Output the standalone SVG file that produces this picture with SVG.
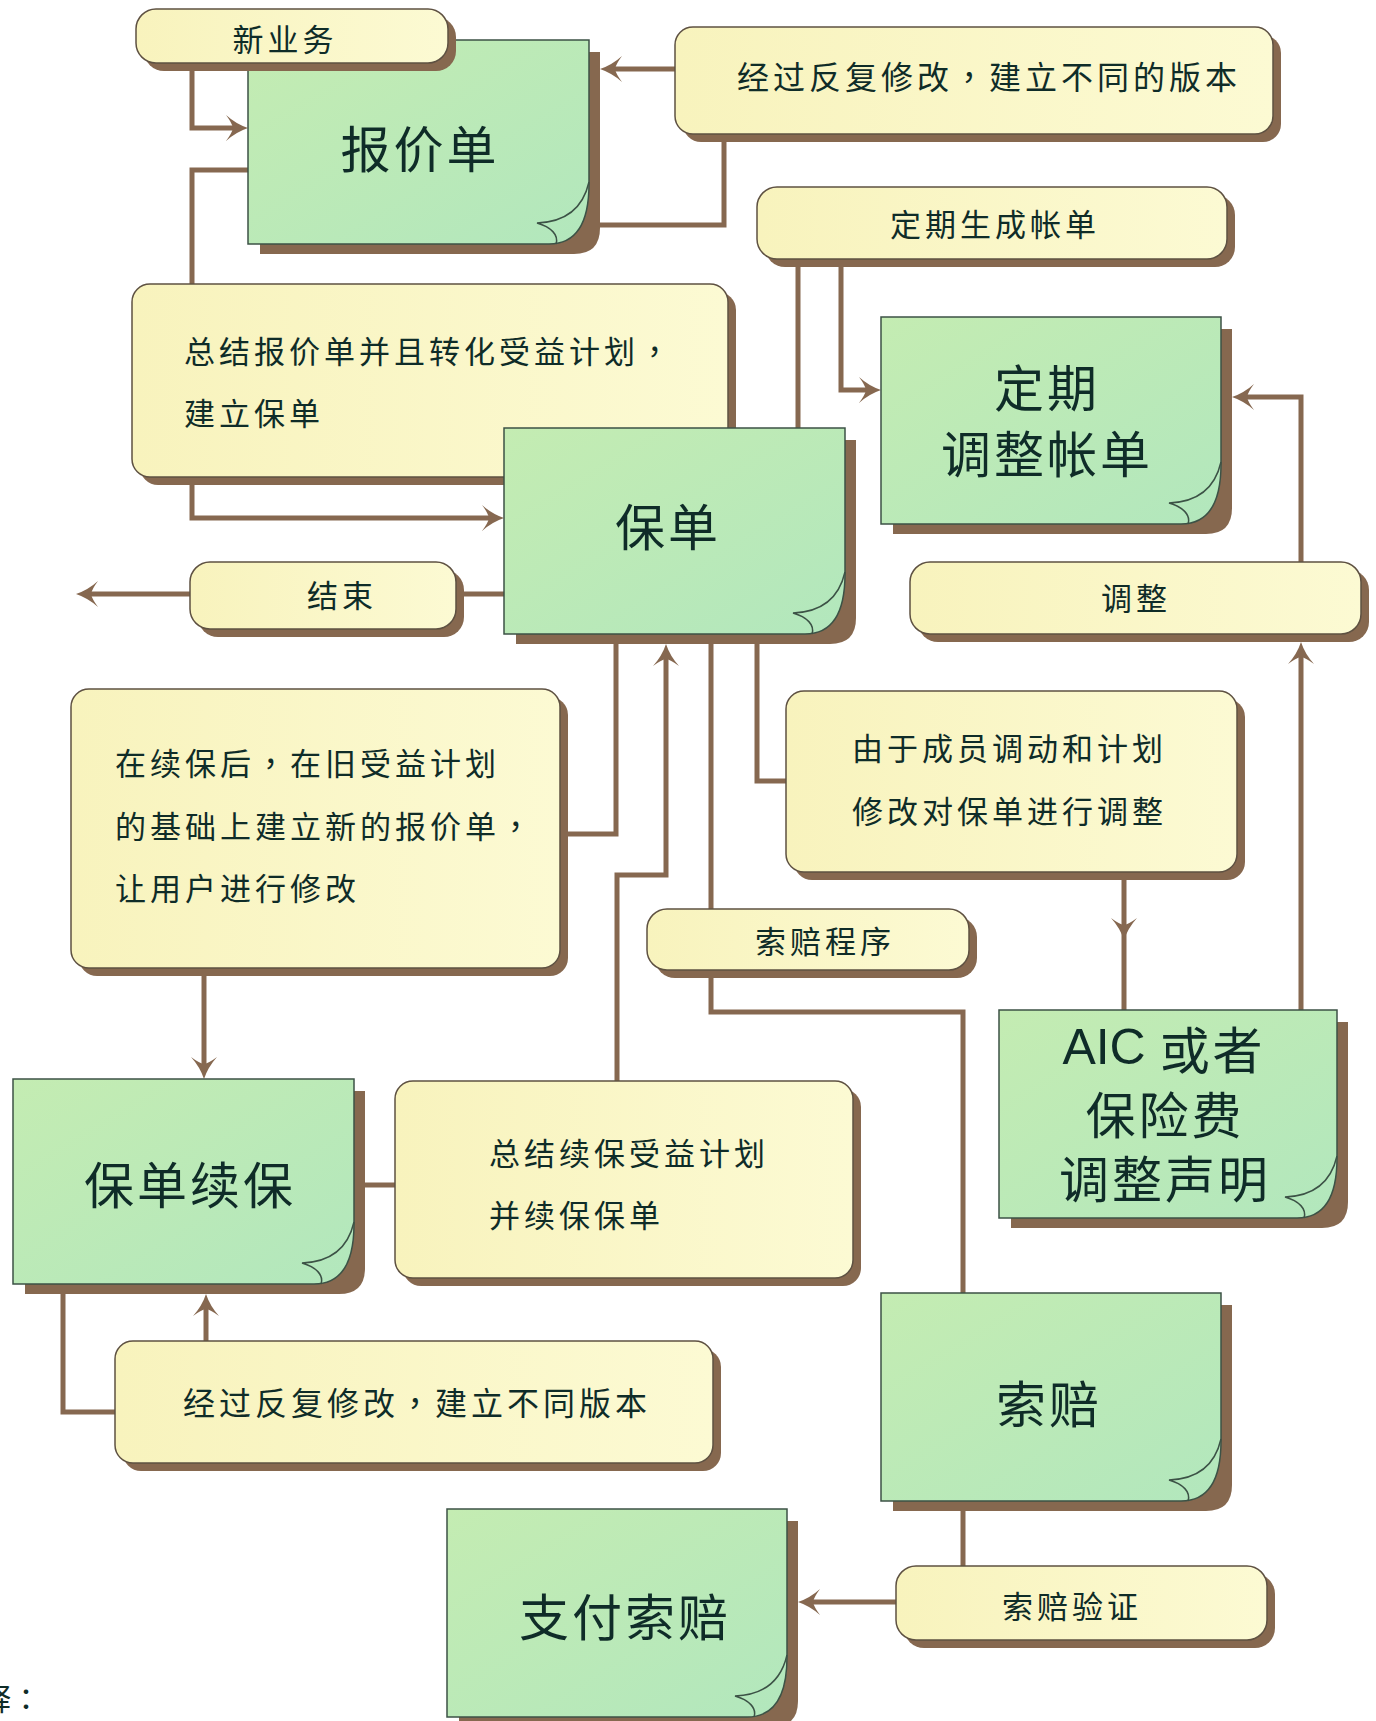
<svg xmlns="http://www.w3.org/2000/svg" width="1376" height="1721" viewBox="0 0 1376 1721">
<defs>
<style>
.c{fill:none;stroke:#866850;stroke-width:5}
.a{marker-end:url(#ar)}
.sh{fill:#86684f}
.g{fill:url(#gg);stroke:#3c5246;stroke-width:1.5}
.y{fill:url(#yg);stroke:#5e5142;stroke-width:1.5}
.cu{fill:none;stroke:#3c5246;stroke-width:1.5}
.t{font-family:"Noto Sans CJK SC","Noto Sans CJK TC",sans-serif;fill:#0f2c28;dominant-baseline:central}
.s{font-size:31px;letter-spacing:4px}
.m{font-size:32px;letter-spacing:4px}
.l{font-size:50px;letter-spacing:3px}
.p{font-family:"Noto Sans CJK TC",sans-serif}
.mid{text-anchor:middle}
</style>
<linearGradient id="gg" x1="0" y1="0" x2="1" y2="1">
<stop offset="0" stop-color="#c4ecb2"/>
<stop offset="1" stop-color="#b2e7bd"/>
</linearGradient>
<linearGradient id="yg" x1="0" y1="0" x2="1" y2="0">
<stop offset="0" stop-color="#f8f3bd"/>
<stop offset="1" stop-color="#fcfad3"/>
</linearGradient>
<marker id="ar" markerUnits="userSpaceOnUse" viewBox="-14 -15 26 30" markerWidth="26" markerHeight="30" refX="0" refY="0" orient="auto">
<path d="M10,0 Q-2,-4 -12,-13 Q-6,-5 -5,0 Q-6,5 -12,13 Q-2,4 10,0 Z" fill="#866850"/>
</marker>
</defs>
<rect width="1376" height="1721" fill="#ffffff"/>

<g id="connectors">
<path class="c a" d="M192,63 V128 H238"/>
<path class="c" d="M250,170 H192 V284"/>
<path class="c a" d="M192,477 V518 H494"/>
<path class="c a" d="M677,69 H610"/>
<path class="c" d="M600,225 H724 V134"/>
<path class="c" d="M798,259 V428"/>
<path class="c a" d="M841,259 V390 H871"/>
<path class="c a" d="M1301,562 V397 H1242"/>
<path class="c" d="M504,594 H456"/>
<path class="c a" d="M190,594 H86"/>
<path class="c" d="M616,634 V834 H560"/>
<path class="c a" d="M617,1081 V875 H666 V654"/>
<path class="c" d="M711,634 V909"/>
<path class="c" d="M711,970 V1012 H963 V1293"/>
<path class="c" d="M757,634 V781 H786"/>
<path class="c" d="M1124,872 V930 V1010" style="marker-mid:url(#ar)"/>
<path class="c a" d="M1301,1010 V652"/>
<path class="c a" d="M204,968 V1069"/>
<path class="c" d="M354,1185 H395"/>
<path class="c" d="M63,1284 V1412 H115"/>
<path class="c a" d="M206,1341 V1304"/>
<path class="c" d="M963,1501 V1566"/>
<path class="c a" d="M896,1602 H808"/>
</g>

<g id="n-baojiadan">
<path class="sh" d="M260,52 H600 V228 Q600,254 574,254 H260 Z"/>
<path class="g" d="M248,40 H589 V184 C589,222 577,244 549,244 H248 Z"/>
<path class="cu" d="M589,182 C583,208 565,222 537,223 C551,227 559,235 556,244"/>
<text class="t l mid" x="420" y="146">报价单</text>
</g>

<g id="n-xinyewu">
<rect class="sh" x="144" y="17" width="312" height="54" rx="20"/>
<rect class="y" x="136" y="9" width="312" height="54" rx="20"/>
<text class="t s mid" x="285" y="37">新业务</text>
</g>

<g id="n-banben1">
<rect class="sh" x="683" y="35" width="598" height="107" rx="18"/>
<rect class="y" x="675" y="27" width="598" height="107" rx="18"/>
<text class="t m" x="737" y="75">经过反复修改<tspan class="p">，</tspan>建立不同的版本</text>
</g>

<g id="n-dingqishengcheng">
<rect class="sh" x="765" y="195" width="470" height="72" rx="20"/>
<rect class="y" x="757" y="187" width="470" height="72" rx="20"/>
<text class="t s mid" x="995" y="222">定期生成帐单</text>
</g>

<g id="n-zongjie">
<rect class="sh" x="140" y="292" width="596" height="193" rx="18"/>
<rect class="y" x="132" y="284" width="596" height="193" rx="18"/>
<text class="t s" x="184" y="349">总结报价单并且转化受益计划<tspan class="p">，</tspan></text>
<text class="t s" x="184" y="411">建立保单</text>
</g>

<g id="n-baodan">
<path class="sh" d="M516,440 H856 V618 Q856,644 830,644 H516 Z"/>
<path class="g" d="M504,428 H845 V574 C845,612 833,634 805,634 H504 Z"/>
<path class="cu" d="M845,572 C839,598 821,612 793,613 C807,617 815,625 812,634"/>
<text class="t l mid" x="668" y="524">保单</text>
</g>

<g id="n-dingqitiaozheng">
<path class="sh" d="M893,329 H1232 V508 Q1232,534 1206,534 H893 Z"/>
<path class="g" d="M881,317 H1221 V464 C1221,502 1209,524 1181,524 H881 Z"/>
<path class="cu" d="M1221,462 C1215,488 1197,502 1169,503 C1183,507 1191,515 1188,524"/>
<text class="t l mid" x="1047" y="385">定期</text>
<text class="t l mid" x="1047" y="451">调整帐单</text>
</g>

<g id="n-tiaozheng">
<rect class="sh" x="918" y="570" width="451" height="72" rx="20"/>
<rect class="y" x="910" y="562" width="451" height="72" rx="20"/>
<text class="t s mid" x="1136" y="596">调整</text>
</g>

<g id="n-jieshu">
<rect class="sh" x="198" y="570" width="266" height="67" rx="20"/>
<rect class="y" x="190" y="562" width="266" height="67" rx="20"/>
<text class="t s mid" x="342" y="593">结束</text>
</g>

<g id="n-xubaohou">
<rect class="sh" x="79" y="697" width="489" height="279" rx="18"/>
<rect class="y" x="71" y="689" width="489" height="279" rx="18"/>
<text class="t s" x="115" y="761">在续保后<tspan class="p">，</tspan>在旧受益计划</text>
<text class="t s" x="115" y="824">的基础上建立新的报价单<tspan class="p">，</tspan></text>
<text class="t s" x="115" y="886">让用户进行修改</text>
</g>

<g id="n-chengyuan">
<rect class="sh" x="794" y="699" width="451" height="181" rx="18"/>
<rect class="y" x="786" y="691" width="451" height="181" rx="18"/>
<text class="t s" x="852" y="746">由于成员调动和计划</text>
<text class="t s" x="852" y="809">修改对保单进行调整</text>
</g>

<g id="n-suopeichengxu">
<rect class="sh" x="655" y="917" width="322" height="61" rx="20"/>
<rect class="y" x="647" y="909" width="322" height="61" rx="20"/>
<text class="t s mid" x="825" y="939">索赔程序</text>
</g>

<g id="n-aic">
<path class="sh" d="M1011,1022 H1348 V1202 Q1348,1228 1322,1228 H1011 Z"/>
<path class="g" d="M999,1010 H1337 V1158 C1337,1196 1325,1218 1297,1218 H999 Z"/>
<path class="cu" d="M1337,1156 C1331,1182 1313,1196 1285,1197 C1299,1201 1307,1209 1304,1218"/>
<text class="t l mid" x="1164" y="1047"><tspan font-family="Liberation Sans, sans-serif" letter-spacing="0">AIC </tspan>或者</text>
<text class="t l mid" x="1165" y="1112">保险费</text>
<text class="t l mid" x="1165" y="1176">调整声明</text>
</g>

<g id="n-baodanxubao">
<path class="sh" d="M25,1091 H365 V1268 Q365,1294 339,1294 H25 Z"/>
<path class="g" d="M13,1079 H354 V1224 C354,1262 342,1284 314,1284 H13 Z"/>
<path class="cu" d="M354,1222 C348,1248 330,1262 302,1263 C316,1267 324,1275 321,1284"/>
<text class="t l mid" x="190" y="1182">保单续保</text>
</g>

<g id="n-zongjiexubao">
<rect class="sh" x="403" y="1089" width="458" height="197" rx="18"/>
<rect class="y" x="395" y="1081" width="458" height="197" rx="18"/>
<text class="t s" x="489" y="1151">总结续保受益计划</text>
<text class="t s" x="489" y="1213">并续保保单</text>
</g>

<g id="n-banben2">
<rect class="sh" x="123" y="1349" width="598" height="122" rx="18"/>
<rect class="y" x="115" y="1341" width="598" height="122" rx="18"/>
<text class="t m" x="183" y="1401">经过反复修改<tspan class="p">，</tspan>建立不同版本</text>
</g>

<g id="n-suopei">
<path class="sh" d="M893,1305 H1232 V1485 Q1232,1511 1206,1511 H893 Z"/>
<path class="g" d="M881,1293 H1221 V1441 C1221,1479 1209,1501 1181,1501 H881 Z"/>
<path class="cu" d="M1221,1439 C1215,1465 1197,1479 1169,1480 C1183,1484 1191,1492 1188,1501"/>
<text class="t l mid" x="1049" y="1401">索赔</text>
</g>

<g id="n-suopeiyanzheng">
<rect class="sh" x="904" y="1574" width="371" height="74" rx="20"/>
<rect class="y" x="896" y="1566" width="371" height="74" rx="20"/>
<text class="t s mid" x="1072" y="1604">索赔验证</text>
</g>

<g id="n-zhifusuopei">
<path class="sh" d="M459,1521 H798 V1701 Q798,1727 772,1727 H459 Z"/>
<path class="g" d="M447,1509 H787 V1657 C787,1695 775,1717 747,1717 H447 Z"/>
<path class="cu" d="M787,1655 C781,1681 763,1695 735,1696 C749,1700 757,1708 754,1717"/>
<text class="t l mid" x="625" y="1614">支付索赔</text>
</g>

<text class="t" x="-19" y="1697" font-size="30">释<tspan class="p">：</tspan></text>
</svg>
